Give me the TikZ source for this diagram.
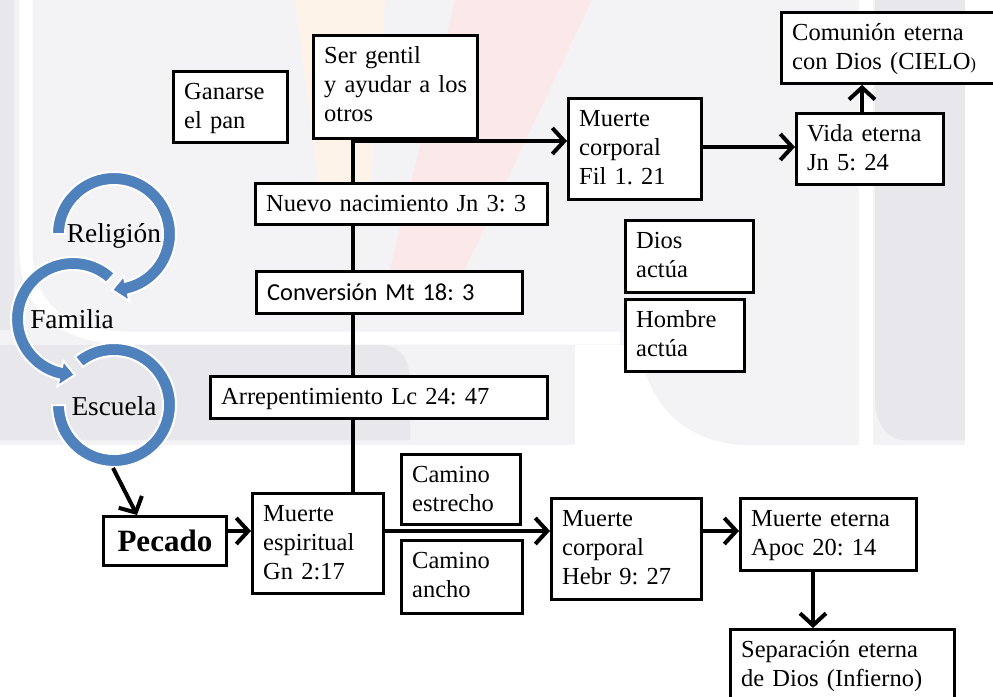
\documentclass[tikz,border=0pt]{standalone}
\usepackage{fontspec}
\setmainfont{Liberation Serif}
\newfontfamily\calibri{Carlito}
\usetikzlibrary{arrows.meta,calc}
\definecolor{sablue}{HTML}{4F81BD}
\definecolor{wmlight}{HTML}{F3F3F6}
\definecolor{wmdark}{HTML}{E8E8EC}
\definecolor{wmpink}{HTML}{FBE9E9}
\definecolor{wmpeach}{HTML}{FEF3E8}
\frenchspacing
\begin{document}
\begin{tikzpicture}[x=1pt,y=-1pt,
  bx/.style={draw=black,line width=2.8pt,fill=white,anchor=north west,inner sep=0pt,rectangle},
  lb/.style={anchor=north west,inner sep=0pt,text width=300pt,align=left,xshift=12pt,yshift=-9.2pt,
             font=\fontsize{24.5}{29}\selectfont\frenchspacing,execute at begin node=\strut},
  cyc/.style={fill=sablue,draw=white,line width=2pt},
  cyclbl/.style={anchor=base,font=\fontsize{27.3}{32}\selectfont},
  conn/.style={line width=4pt},
  arr/.style={conn,-{Straight Barb[length=12pt,width=26pt]}},
]
\useasboundingbox (0,0) rectangle (993,696);
% ---------- faint watermark ----------
\fill[wmlight] (0,0) rectangle (965,445);
\fill[wmdark] (0,0) rectangle (14,330);
\fill[wmdark] (0,345) -- (380,345) .. controls (400,345) and (410,360) .. (410,380) -- (410,440) -- (0,440) -- cycle;
\draw[white,line width=13pt] (26,-5) -- (26,250) .. controls (26,305) and (60,338) .. (130,338) -- (620,338);
\fill[white] (575,345) -- (640,345) .. controls (645,400) and (680,440) .. (740,445) -- (575,445) -- cycle;
\fill[wmdark] (875,0) -- (965,0) -- (965,440) -- (905,440) .. controls (885,440) and (875,420) .. (875,400) -- cycle;
\fill[white] (859,0) rectangle (873,445);
\fill[wmpeach] (295,0) -- (385,0) -- (370,195) -- (320,195) -- cycle;
\fill[wmpink] (455,0) -- (592,0) -- (455,290) -- (385,290) -- cycle;
% ---------- circular arrows ----------
\path[cyc] ($(114,405)+(-129:62)$) arc[start angle=-129,end angle=180,radius=62]
   -- ($(114,405)+(180:49)$) arc[start angle=180,end angle=-129,radius=49] -- cycle;
\path[cyc] ($(73,319)+(-47.5:62)$) arc[start angle=-47.5,end angle=-257,radius=62]
   -- ($(73,319)+(-257:69)$) -- ($(73,319)+(-272:56)$) -- ($(73,319)+(-257:43)$)
   -- ($(73,319)+(-257:49)$) arc[start angle=-257,end angle=-47.5,radius=49] -- cycle;
\path[cyc] ($(114,234)+(-180:62)$) arc[start angle=-180,end angle=77,radius=62]
   -- ($(114,234)+(77:69)$) -- ($(114,234)+(92:56)$) -- ($(114,234)+(77:43)$)
   -- ($(114,234)+(77:49)$) arc[start angle=77,end angle=-180,radius=49] -- cycle;
\node[cyclbl] (rel) at (114,242) {Religión};
\node[cyclbl] (fam) at (72,328) {Familia};
\node[cyclbl] (esc) at (114,415) {Escuela};
% ---------- boxes ----------
\node[bx,minimum width=114pt,minimum height=71pt,label={[lb]north west:{Ganarse\\el pan}}] (gan) at (172,70) {};
\node[bx,minimum width=164pt,minimum height=103pt,label={[lb]north west:{Ser gentil\\y ayudar a los\\otros}}] (sg) at (312,34) {};
\node[bx,minimum width=292pt,minimum height=41pt,label={[lb]north west:{Nuevo nacimiento Jn 3: 3}}] (nn) at (254,182) {};
\node[bx,minimum width=266pt,minimum height=42pt,label={[lb,font=\calibri\fontsize{24.4}{28}\selectfont\frenchspacing,yshift=-1pt]north west:{Conversión Mt 18: 3}}] (cv) at (255,270) {};
\node[bx,minimum width=337pt,minimum height=42pt,label={[lb]north west:{Arrepentimiento Lc 24: 47}}] (ar) at (209,375) {};
\node[bx,minimum width=133pt,minimum height=101pt,label={[lb]north west:{Muerte\\corporal\\Fil 1. 21}}] (mcf) at (567,97) {};
\node[bx,minimum width=147pt,minimum height=71pt,label={[lb]north west:{Vida eterna\\Jn 5: 24}}] (ve) at (795,112) {};
\node[bx,minimum width=230pt,minimum height=71pt,label={[lb]north west:{Comunión eterna\\con Dios (CIELO{\fontsize{17}{29}\selectfont)}}}] (com) at (780,11) {};
\node[bx,minimum width=128pt,minimum height=72pt,label={[lb]north west:{Dios\\actúa}}] (dios) at (624,219) {};
\node[bx,minimum width=119pt,minimum height=72pt,label={[lb]north west:{Hombre\\actúa}}] (hom) at (624,298) {};
\node[bx,minimum width=123pt,minimum height=49pt,font=\bfseries\fontsize{31}{36}\selectfont] (pec) at (102,515) {Pecado};
\node[bx,minimum width=131pt,minimum height=100pt,label={[lb]north west:{Muerte\\espiritual\\Gn 2:17}}] (me) at (251,492) {};
\node[bx,minimum width=119pt,minimum height=70pt,label={[lb]north west:{Camino\\estrecho}}] (ce) at (400,453) {};
\node[bx,minimum width=121pt,minimum height=73pt,label={[lb]north west:{Camino\\ancho}}] (ca) at (400,539) {};
\node[bx,minimum width=150pt,minimum height=101pt,label={[lb]north west:{Muerte\\corporal\\Hebr 9: 27}}] (mch) at (550,497) {};
\node[bx,minimum width=176pt,minimum height=72pt,label={[lb]north west:{Muerte eterna\\Apoc 20: 14}}] (meter) at (739,497) {};
\node[bx,minimum width=224pt,minimum height=80pt,label={[lb]north west:{Separación eterna\\de Dios (Infierno)}}] (sep) at (729,628) {};
% ---------- connectors ----------
\coordinate (spine) at (353,141);
\coordinate (row) at (0,531);
\coordinate (toprow) at (0,147);
\coordinate (dcol) at (813,0);
\coordinate (ucol) at (862,0);
\coordinate (escb) at (113,468);
\coordinate (pcol) at (137,0);
\draw[conn] (sg.south -| spine) -- (nn.north -| spine);
\draw[conn] (nn.south -| spine) -- (cv.north -| spine);
\draw[conn] (cv.south -| spine) -- (ar.north -| spine);
\draw[conn] (ar.south -| spine) -- (me.north -| spine);
\draw[arr] (spine) -- (spine -| mcf.west);
\draw[arr] (mcf.east |- toprow) -- (ve.west |- toprow);
\draw[arr] (ve.north -| ucol) -- (com.south -| ucol);
\draw[arr] (escb) -- (pec.north -| pcol);
\draw[arr] (pec.east |- row) -- (me.west |- row);
\draw[arr] (me.east |- row) -- (mch.west |- row);
\draw[arr] (mch.east |- row) -- (meter.west |- row);
\draw[arr] (meter.south -| dcol) -- (sep.north -| dcol);
\end{tikzpicture}
\end{document}
